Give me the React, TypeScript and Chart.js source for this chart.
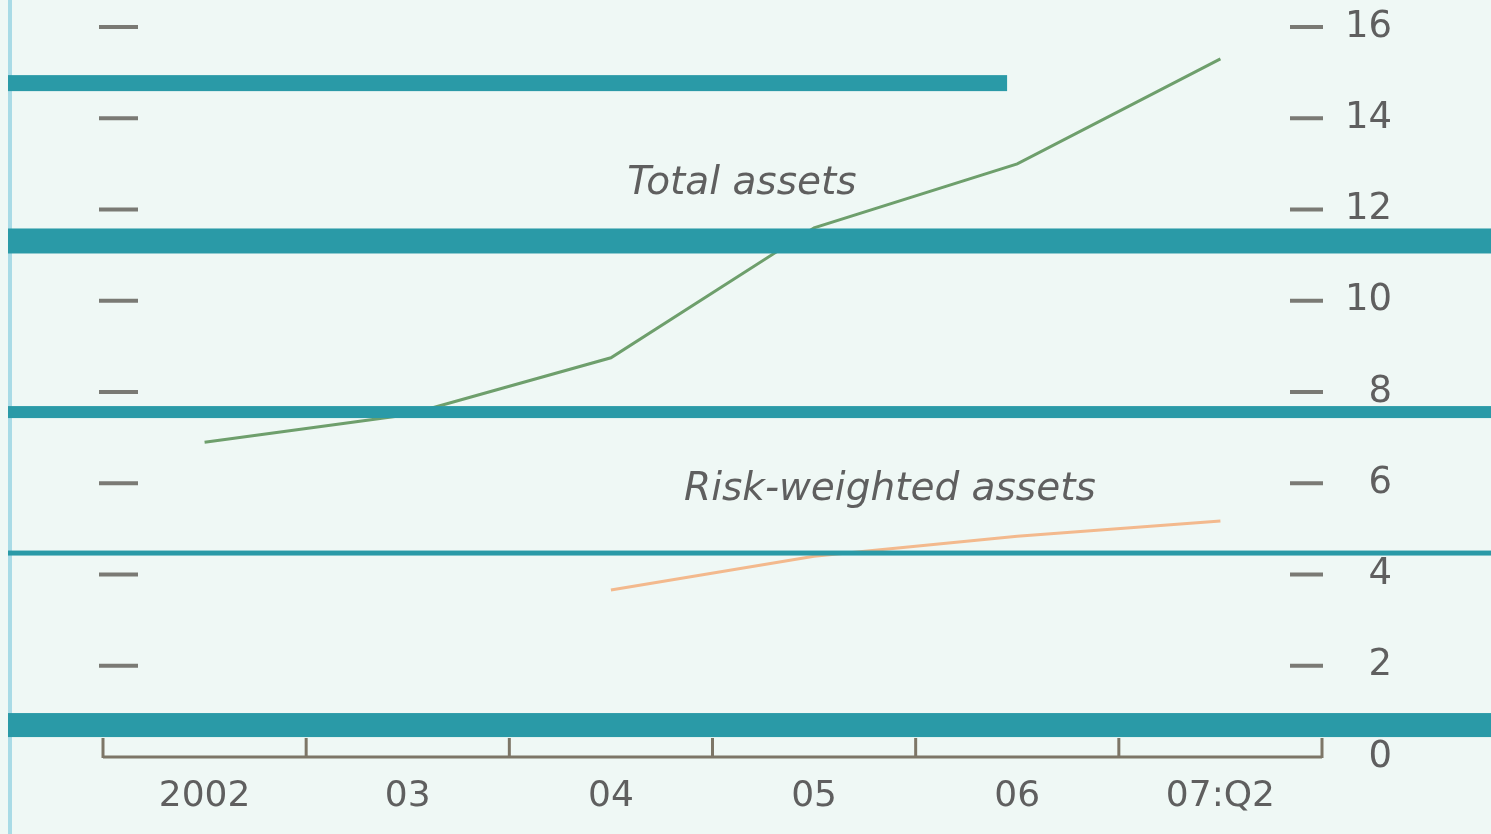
import React, { useEffect, useRef } from "react";
import { Chart, registerables } from "chart.js";

Chart.register(...registerables);

// ---- data ----
const categories = ["2002", "03", "04", "05", "06", "07:Q2"];
const totalAssets = [6.9, 7.5, 8.75, 11.6, 13.0, 15.3];
const riskWeightedAssets = [null, null, 3.66, 4.4, 4.84, 5.17];
const yTickValues = [0, 2, 4, 6, 8, 10, 12, 14, 16];
const seriesNames = ["Total assets", "Risk-weighted assets"];
// label anchors in data space: [category index, value]
const labelAnchorX = [2.08, 2.36];
const labelAnchorY = [12.56, 5.85];

// decorative scan bands (in value units), thickness in px
const bandValues = [14.77, 11.31, 7.56, 4.47, 0.7];
const bandThickness = [16, 25, 12, 5, 24];
const bandEndIndex = [3.95, null, null, null, null];

const W = 1491;
const H = 834;
const BG = "#eff8f5";
const TEXT = "#5f5f5f";
const BAND = "#2a9aa7";

const decorPlugin = {
  id: "decor",
  beforeDraw(chart: any) {
    const { ctx, width, height } = chart;
    ctx.save();
    ctx.fillStyle = BG;
    ctx.fillRect(0, 0, width, height);
    ctx.fillStyle = "#a9dbe6";
    ctx.fillRect(8, 0, 4, height);
    ctx.restore();
  },
  afterDraw(chart: any) {
    const { ctx, chartArea } = chart;
    const xs = chart.scales.x;
    const ys = chart.scales.y;
    ctx.save();
    // tick dashes on both sides
    ctx.strokeStyle = "#7a7a74";
    ctx.lineWidth = 4;
    ctx.lineCap = "butt";
    yTickValues.forEach((v) => {
      if (v === 0) return;
      const y = ys.getPixelForValue(v);
      ctx.beginPath();
      ctx.moveTo(chartArea.left - 4, y);
      ctx.lineTo(chartArea.left + 35, y);
      ctx.stroke();
      ctx.beginPath();
      ctx.moveTo(chartArea.right - 32, y);
      ctx.lineTo(chartArea.right + 1, y);
      ctx.stroke();
    });
    // x axis line with upward ticks at period boundaries
    const y0 = ys.getPixelForValue(0);
    ctx.strokeStyle = "#7d7667";
    ctx.lineWidth = 3;
    ctx.beginPath();
    ctx.moveTo(xs.left, y0);
    ctx.lineTo(xs.right, y0);
    ctx.stroke();
    const n = categories.length;
    for (let i = 0; i <= n; i++) {
      const x = xs.left + (i * (xs.right - xs.left)) / n;
      ctx.beginPath();
      ctx.moveTo(x, y0 + 1);
      ctx.lineTo(x, y0 - 19);
      ctx.stroke();
    }
    // series labels
    ctx.fillStyle = TEXT;
    ctx.font = 'italic 39px "DejaVu Sans"';
    ctx.textAlign = "left";
    ctx.textBaseline = "middle";
    seriesNames.forEach((name, i) => {
      const x = xs.getPixelForValue(labelAnchorX[i]);
      const y = ys.getPixelForValue(labelAnchorY[i]);
      ctx.fillText(name, x, y);
    });
    // scan bands
    ctx.fillStyle = BAND;
    bandValues.forEach((v, i) => {
      const y = ys.getPixelForValue(v);
      const t = bandThickness[i];
      const end = bandEndIndex[i] == null ? chart.width : xs.getPixelForValue(bandEndIndex[i]);
      ctx.fillRect(8, y - t / 2, end - 8, t);
    });
    ctx.restore();
  },
};

export default function App() {
  const ref = useRef<HTMLCanvasElement | null>(null);
  useEffect(() => {
    document.body.style.margin = "0";
    const canvas = ref.current!;
    const chart = new Chart(canvas, {
      type: "line",
      data: {
        labels: categories,
        datasets: [
          {
            label: seriesNames[0],
            data: totalAssets,
            borderColor: "#6e9f6c",
            borderWidth: 3,
            pointRadius: 0,
            tension: 0,
          },
          {
            label: seriesNames[1],
            data: riskWeightedAssets as any,
            borderColor: "#f3b98d",
            borderWidth: 3,
            pointRadius: 0,
            tension: 0,
            spanGaps: false,
          },
        ],
      },
      options: {
        animation: false,
        responsive: false,
        devicePixelRatio: 1,
        layout: { padding: { left: 103, right: 99, top: 27, bottom: 0 } },
        plugins: { legend: { display: false }, tooltip: { enabled: false } },
        scales: {
          x: {
            type: "category",
            offset: true,
            grid: { display: false, drawTicks: false },
            border: { display: false },
            ticks: {
              color: TEXT,
              font: { family: "DejaVu Sans", size: 36 },
              padding: 18,
              maxRotation: 0,
              autoSkip: false,
            },
            afterFit: (s: any) => {
              s.height = 77;
            },
          },
          y: {
            position: "right",
            min: 0,
            max: 16,
            grid: { display: false, drawTicks: false },
            border: { display: false },
            ticks: {
              stepSize: 2,
              color: TEXT,
              font: { family: "DejaVu Sans", size: 37 },
              crossAlign: "far",
              padding: 0,
            },
            afterFit: (s: any) => {
              s.width = 70;
            },
          },
        },
      },
      plugins: [decorPlugin],
    });
    return () => chart.destroy();
  }, []);
  return (
    <div style={{ width: W, height: H, overflow: "hidden" }}>
      <canvas ref={ref} width={W} height={H} style={{ width: W, height: H, display: "block" }} />
    </div>
  );
}
